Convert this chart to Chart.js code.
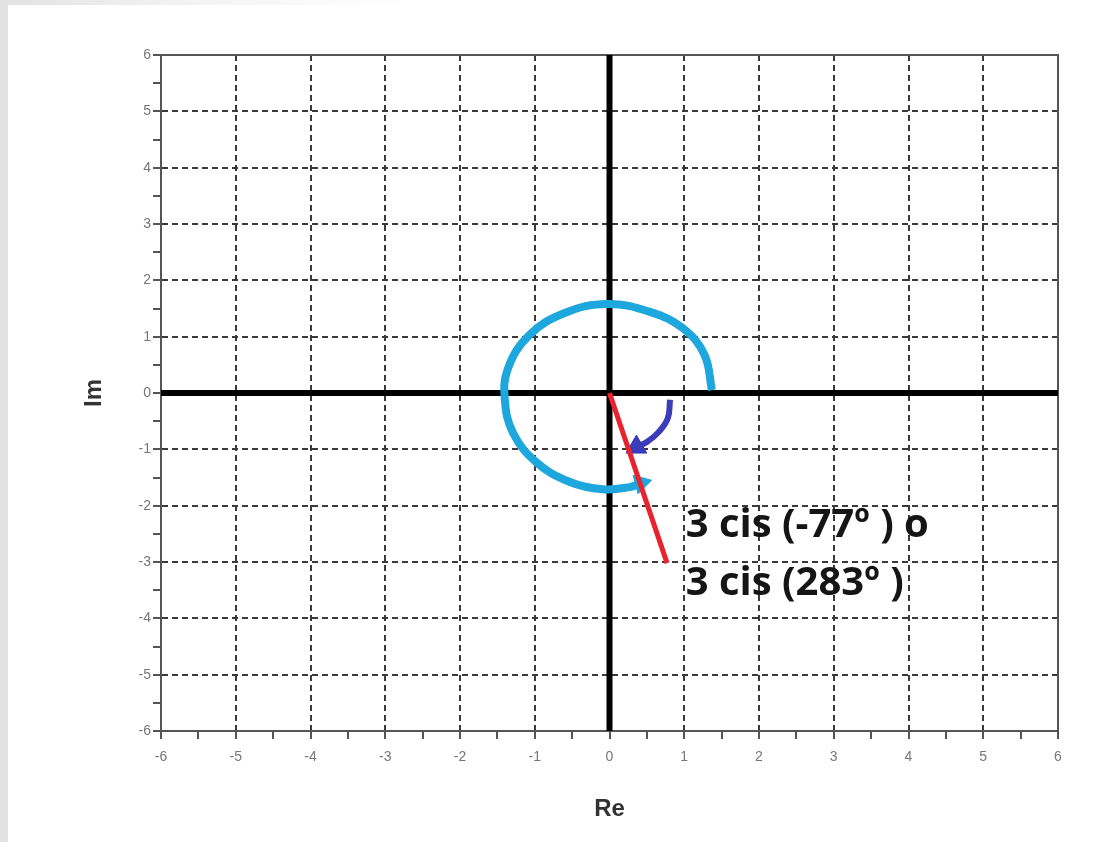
<!DOCTYPE html>
<html>
<head>
<meta charset="utf-8">
<script src="https://cdn.jsdelivr.net/npm/chart.js@4/dist/chart.umd.min.js"></script>
<style>
  body { margin: 0; background: #fff; }
  #cadre { position: absolute; left: 0; top: 0; width: 1108px; height: 842px; }
</style>
</head>
<body>
<div id="cadre"><canvas id="graphique-complexe"></canvas></div>
<script>
// Arc bleu clair (sens anti-horaire, 283º)
const arcGrandX = [1.37, 1.27, 0.98, 0.54, -0.03, -0.60, -1.08, -1.36, -1.40, -1.29, -0.97, -0.53, -0.09, 0.27, 0.42];
const arcGrandY = [0.05, 0.68, 1.15, 1.44, 1.58, 1.42, 1.02, 0.43, -0.12, -0.71, -1.24, -1.58, -1.71, -1.67, -1.60];
// Arc bleu fonce (sens horaire, -77º)
const arcPetitX = [0.81, 0.78, 0.66, 0.50, 0.36];
const arcPetitY = [-0.12, -0.45, -0.69, -0.87, -0.96];
// Vecteur rouge
const vecteurX = [0, 0.77];
const vecteurY = [0, -3.02];
// Axes reel / imaginaire
const axeReX = [-6, 6];
const axeReY = [0, 0];
const axeImX = [0, 0];
const axeImY = [-6, 6];
// Etiquettes
const etiquettes = ["3 cis (-77º ) o", "3 cis (283º )"];
const etiquettesX = [1.02, 1.02];
const etiquettesY = [-2.36, -3.39];

function points(xs, ys) {
    return xs.map((x, i) => ({ x: x, y: ys[i] }));
}

function flecheRayon(taille) {
    return ctx => ctx.dataIndex === ctx.dataset.data.length - 1 ? taille : 0;
}

const fondPage = {
    id: "fondPage",
    beforeDraw(chart) {
        const c = chart.ctx;
        c.save();
        c.fillStyle = "#fff";
        c.fillRect(0, 0, chart.width, chart.height);
        const grad = c.createLinearGradient(0, 0, 420, 0);
        grad.addColorStop(0, "#e2e2e2");
        grad.addColorStop(1, "rgba(240,240,240,0)");
        c.fillStyle = grad;
        c.fillRect(0, 0, 420, 5);
        c.fillStyle = "#e2e2e2";
        c.fillRect(0, 0, 8, chart.height);
        c.restore();
    },
    beforeDatasetsDraw(chart) {
        const a = chart.chartArea;
        const c = chart.ctx;
        c.save();
        c.strokeStyle = "#555";
        c.lineWidth = 2;
        c.strokeRect(a.left, a.top, a.right - a.left, a.bottom - a.top);
        c.restore();
    },
    afterDatasetsDraw(chart) {
        const c = chart.ctx;
        const sx = chart.scales.x, sy = chart.scales.y;
        c.save();
        c.font = "bold 40px 'Open Sans'";
        c.fillStyle = "#151515";
        c.textBaseline = "middle";
        for (let i = 0; i < etiquettes.length; i++) {
            c.fillText(etiquettes[i], sx.getPixelForValue(etiquettesX[i]), sy.getPixelForValue(etiquettesY[i]));
        }
        c.restore();
    }
};

function optionsAxe(titre) {
    return {
        type: "linear",
        min: -6,
        max: 6,
        ticks: {
            stepSize: 0.5,
            autoSkip: false,
            maxRotation: 0,
            color: "#777",
            font: { family: "Arial", size: 14 },
            callback: v => Number.isInteger(v) ? v : ""
        },
        grid: {
            color: ctx => Number.isInteger(ctx.tick && ctx.tick.value) ? "#3a3a3a" : "rgba(0,0,0,0)",
            tickColor: "#555",
            lineWidth: 2,
            tickLength: 8
        },
        border: { display: true, color: "#555", width: 2, dash: [6, 4] },
        title: {
            display: true,
            text: titre,
            color: "#333",
            font: { family: "Arial", size: 24, weight: "bold" }
        }
    };
}

const echelleX = optionsAxe("Re");
echelleX.ticks.padding = 10;
echelleX.title.padding = { top: 0, bottom: 18 };
echelleX.afterFit = scale => { scale.height = 111; };

const echelleY = optionsAxe("Im");
echelleY.ticks.padding = 2;
echelleY.title.padding = { top: 80, bottom: 0 };
echelleY.afterFit = scale => { scale.width = 161; };

const config = {
    type: "scatter",
    data: {
        datasets: [
            {
                data: points(vecteurX, vecteurY),
                showLine: true,
                borderColor: "#e8232d",
                borderWidth: 5,
                pointRadius: 0
            },
            {
                data: points(arcPetitX, arcPetitY),
                showLine: true,
                tension: 0.4,
                borderColor: "#3b3cba",
                backgroundColor: "#3b3cba",
                borderWidth: 6,
                pointStyle: "triangle",
                pointRadius: flecheRayon(12),
                pointRotation: 240,
                pointBorderWidth: 1
            },
            {
                data: points(arcGrandX, arcGrandY),
                showLine: true,
                tension: 0.4,
                borderColor: "#1ea7dd",
                backgroundColor: "#1ea7dd",
                borderWidth: 8,
                pointStyle: "triangle",
                pointRadius: flecheRayon(11),
                pointRotation: 75,
                pointBorderWidth: 1
            },
            {
                data: points(axeReX, axeReY),
                showLine: true,
                borderColor: "#000",
                borderWidth: 6,
                pointRadius: 0
            },
            {
                data: points(axeImX, axeImY),
                showLine: true,
                borderColor: "#000",
                borderWidth: 6,
                pointRadius: 0
            }
        ]
    },
    options: {
        responsive: true,
        maintainAspectRatio: false,
        animation: false,
        layout: { padding: { top: 55, right: 50, left: 0, bottom: 0 } },
        plugins: { legend: { display: false }, tooltip: { enabled: false } },
        scales: { x: echelleX, y: echelleY }
    },
    plugins: [fondPage]
};

new Chart(document.querySelector("#graphique-complexe"), config);
</script>
</body>
</html>
